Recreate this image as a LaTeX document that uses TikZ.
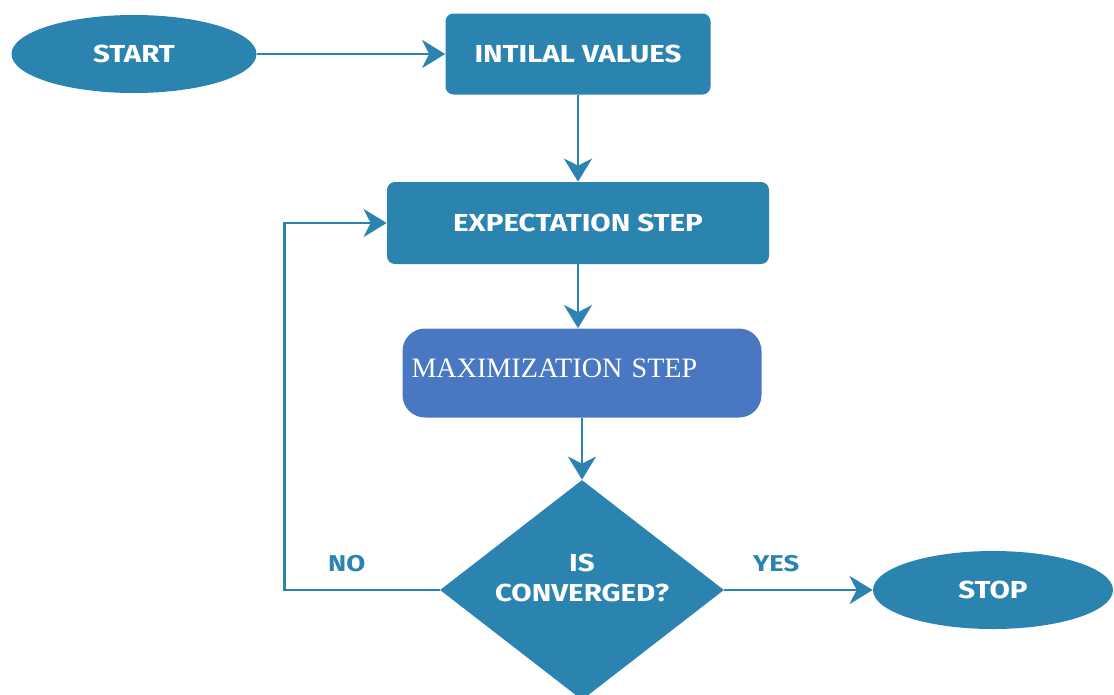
\documentclass[tikz,border=0pt]{standalone}
\usepackage{fontspec}
\setmainfont{Fira Sans}
\newfontfamily\boxfont{Fira Sans}[FakeStretch=1.2]
\newfontfamily\serifmax{Liberation Serif}
\usepackage{tikz}
\usetikzlibrary{shapes,shapes.geometric,arrows.meta,positioning,calc}
\definecolor{emblue}{RGB}{43,131,175}
\definecolor{maxblue}{RGB}{74,119,193}
\tikzset{
block/.style = {draw=none, fill=emblue, rectangle, rounded corners=0.16cm, text=white, font=\boxfont\fontsize{14}{16}\selectfont\bfseries},
term/.style = {draw=none, fill=emblue, ellipse, minimum width=4.9cm, minimum height=1.56cm, text=white, font=\boxfont\fontsize{14}{16}\selectfont\bfseries},
decide/.style = {draw=none, fill=emblue, diamond, aspect=1.29, minimum width=5.68cm, minimum height=4.4cm, inner sep=0pt, text=white, align=center, text depth=0.5cm, font=\boxfont\fontsize{14}{17}\selectfont\bfseries},
lbl/.style = {text=emblue, font=\boxfont\fontsize{13}{15}\selectfont\bfseries},
line/.style = {draw=emblue, line width=1.6pt}
}
\begin{document}
\begin{tikzpicture}[auto, node distance=2cm, >={Stealth[length=0.46cm, width=0.56cm, inset=0.14cm]}]
    \useasboundingbox (0,0) rectangle (22.28,-13.88);
    \node [term] (start) at (2.68,-1.08) {START};
    \node [block, right of=start, node distance=8.88cm, minimum width=5.3cm, minimum height=1.62cm] (init) {INTILAL VALUES};
    \node [block, below of=init, node distance=3.38cm, minimum width=7.64cm, minimum height=1.64cm] (exp) {EXPECTATION STEP};
    \node [block, below of=exp, node distance=3.0cm, xshift=0.08cm, fill=maxblue, rounded corners=0.45cm, minimum width=7.18cm, minimum height=1.78cm,
           text width=6.82cm, align=left, text depth=0.2cm, font=\serifmax\fontsize{16}{18}\selectfont] (max) {MAXIMIZATION STEP};
    \node [decide, below of=max, node distance=4.34cm] (conv) {IS\\CONVERGED?};
    \node [term, right of=conv, node distance=8.22cm, minimum width=4.8cm] (stop) {STOP};

    \draw [line, ->] (start) -- (init);
    \draw [line, ->] (init) -- (exp);
    \draw [line, ->] (exp) -- (exp.south |- max.north);
    \draw [line, ->] (max) -- (conv);
    \draw [line, ->] (conv.east) -- node[lbl, above=0.22cm, pos=0.35]{YES} (stop);
    \draw [line, ->] (conv.west) -- node[lbl, above=0.22cm, pos=0.6]{NO} ++(-3.1,0) |- (exp.west);
\end{tikzpicture}
\end{document}
